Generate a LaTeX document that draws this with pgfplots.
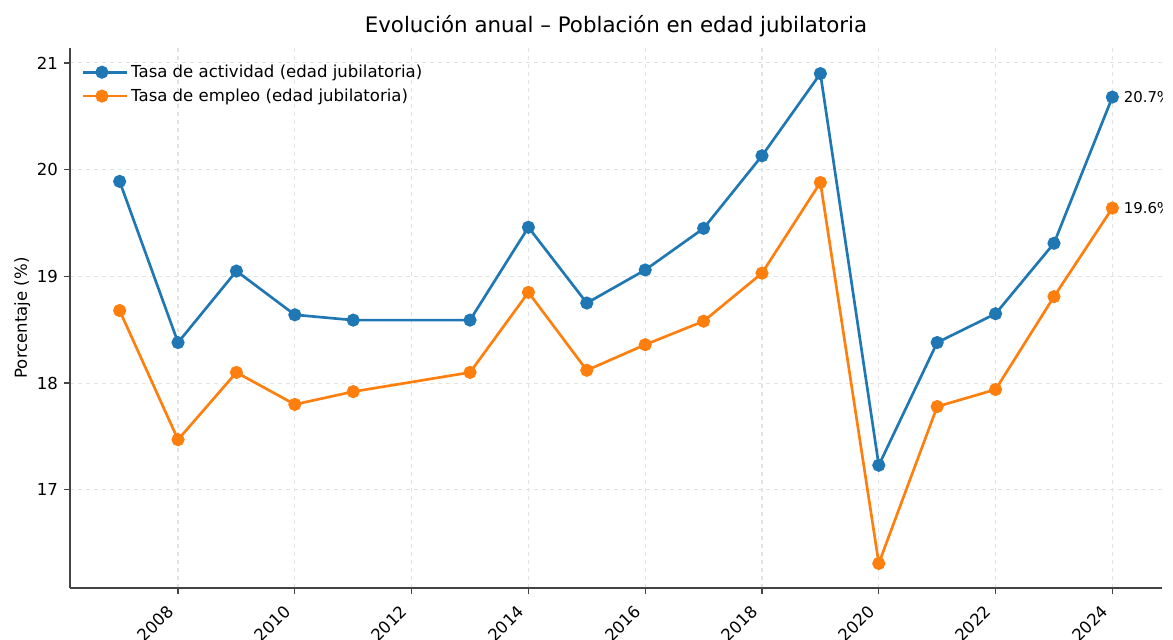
\documentclass[border=0pt]{standalone}
\usepackage{fontspec}
\setmainfont{DejaVu Sans}
\usepackage{pgfplots}
\pgfplotsset{compat=1.18}
\definecolor{mplblue}{HTML}{1F77B4}
\definecolor{mplorange}{HTML}{FF7F0E}
\definecolor{spine}{HTML}{444444}
\definecolor{gridc}{HTML}{E3E3E3}

\begin{document}
\begin{tikzpicture}
\begin{axis}[
  name=ax,
  scale only axis,
  width=819pt, height=405pt,
  xmin=2006.15, xmax=2024.85,
  ymin=16.08, ymax=21.14,
  xtick={2008,2010,...,2024},
  ytick={17,18,19,20,21},
  axis x line*=bottom, axis y line*=left,
  axis line style={spine,line width=1pt,-},
  tick style={spine,line width=1pt},
  tick align=outside,
  major tick length=4.5pt,
  grid=major,
  grid style={gridc,dashed,line width=0.8pt},
  font=\fontsize{12.4}{14.8}\selectfont,
  /pgf/number format/assume math mode=true,
  /pgf/number format/1000 sep={},
  xticklabel style={anchor=north east,inner sep=1pt,xshift=-9pt,yshift=-6pt,rotate=45},
  yticklabel style={xshift=-1pt},
  title={Evolución anual – Población en edad jubilatoria},
  title style={font=\fontsize{16}{19}\selectfont,yshift=-1pt},
  ylabel={Porcentaje (\%)},
  ylabel style={yshift=-2pt},
  legend style={draw=none,fill=none,at={(0.007,0.979)},anchor=north west,
    font=\fontsize{12.4}{14.8}\selectfont,row sep=3pt},
  legend cell align=left,
  legend image code/.code={
    \path (0pt,0pt) -- (33pt,0pt);
    \draw[#1,mark repeat=2,mark phase=2] plot coordinates {(0pt,0pt) (14pt,0pt) (28pt,0pt)};},
]
\addplot[mplblue,line width=2pt,mark=*,mark size=3.9pt] coordinates {
  (2007,19.89) (2008,18.38) (2009,19.05) (2010,18.64) (2011,18.59)
  (2013,18.59) (2014,19.46) (2015,18.75) (2016,19.06) (2017,19.45)
  (2018,20.13) (2019,20.90) (2020,17.23) (2021,18.38) (2022,18.65)
  (2023,19.31) (2024,20.68)};
\addplot[mplorange,line width=2pt,mark=*,mark size=3.9pt] coordinates {
  (2007,18.68) (2008,17.47) (2009,18.10) (2010,17.80) (2011,17.92)
  (2013,18.10) (2014,18.85) (2015,18.12) (2016,18.36) (2017,18.58)
  (2018,19.03) (2019,19.88) (2020,16.31) (2021,17.78) (2022,17.94)
  (2023,18.81) (2024,19.64)};
\node[anchor=west,font=\fontsize{11.2}{13}\selectfont,xshift=5pt] at (axis cs:2024,20.68) {20.7\%};
\node[anchor=west,font=\fontsize{11.2}{13}\selectfont,xshift=5pt] at (axis cs:2024,19.64) {19.6\%};
\legend{Tasa de actividad (edad jubilatoria),Tasa de empleo (edad jubilatoria)}
\end{axis}
\pgfresetboundingbox
\path[use as bounding box] ([shift={(-52.5pt,-38.25pt)}]ax.south west) rectangle ([shift={(827.25pt,441pt)}]ax.south west);
\end{tikzpicture}
\end{document}
